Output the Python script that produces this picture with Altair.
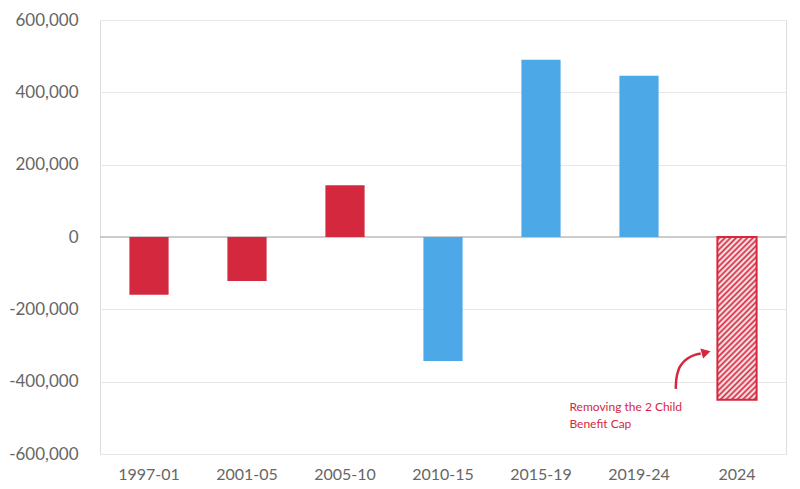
import altair as alt
import pandas as pd

periods = ["1997-01", "2001-05", "2005-10", "2010-15", "2015-19", "2019-24", "2024"]
values = [-160000, -122000, 143000, -343000, 490000, 446000, -450000]
groups = ["red", "red", "red", "blue", "blue", "blue", "hatch"]

note_lines = ["Removing the 2 Child", "Benefit Cap"]
note_x = [4.79, 4.79]
note_y = [-470000, -518000]

arrow_x = [5.875, 5.88, 5.90, 5.94, 6.00, 6.07, 6.13]
arrow_y = [-420000, -395000, -370000, -350000, -335000, -326000, -322000]
head_x = [6.17]
head_y = [-320000]

RED = "#D4283F"
BLUE = "#4DA8E8"
FONT = "Lato"

df = pd.DataFrame({"period": periods, "value": values, "group": groups})
solid = df[df.group != "hatch"]
hatch = df[df.group == "hatch"]

xenc = alt.X("period:N", sort=periods, title=None,
             scale=alt.Scale(paddingInner=0.6, paddingOuter=0.3),
             axis=alt.Axis(labelAngle=0, domain=False, ticks=False, grid=False,
                           labelFont=FONT, labelFontSize=16, labelColor="#666666",
                           labelPadding=12))
yaxis = alt.Axis(values=[-600000, -400000, -200000, 0, 200000, 400000, 600000],
                 labelExpr="replace(format(datum.value, ',.0f'), '\u2212', '-')",
                 domain=False, ticks=False,
                 gridColor="#e8e8e8", gridWidth=1,
                 labelFont=FONT, labelFontSize=17, labelColor="#666666",
                 labelPadding=22)
yscale = alt.Scale(domain=[-600000, 600000], nice=False)

bars = alt.Chart(solid).mark_bar().encode(
    x=xenc, y=alt.Y("value:Q", title=None, scale=yscale, axis=yaxis),
    color=alt.Color("group:N", scale=alt.Scale(domain=["red", "blue"], range=[RED, BLUE]), legend=None),
)

n = 36
stops = []
for i in range(n):
    stops += [
        alt.GradientStop(offset=i / n, color="#ffffff"),
        alt.GradientStop(offset=(i + 0.5) / n, color=RED),
        alt.GradientStop(offset=min((i + 1) / n, 1.0), color="#ffffff"),
    ]
grad = alt.LinearGradient(gradient="linear", stops=stops, x1=0, y1=0, x2=0.283, y2=1.173)

hatched = alt.Chart(hatch).mark_bar(fill=grad, stroke=RED, strokeWidth=2).encode(
    x=alt.X("period:N", sort=periods),
    y=alt.Y("value:Q", title=None, scale=yscale, axis=yaxis),
)

zero = alt.Chart(pd.DataFrame({"z": [0]})).mark_rule(color="#cccccc", strokeWidth=2).encode(
    y=alt.Y("z:Q", title=None, scale=yscale, axis=yaxis)
)

base = (zero + bars + hatched)

ox = alt.Scale(domain=[0, 7])
note = alt.Chart(pd.DataFrame({"x": note_x, "y": note_y, "t": note_lines})).mark_text(
    align="left", baseline="middle", font=FONT, fontSize=12, color=RED
).encode(x=alt.X("x:Q", scale=ox, axis=None), y=alt.Y("y:Q", title=None, scale=yscale, axis=yaxis), text="t:N")

arrow = alt.Chart(pd.DataFrame({"x": arrow_x, "y": arrow_y, "o": list(range(len(arrow_x)))})).mark_line(
    color=RED, strokeWidth=2.5, interpolate="monotone"
).encode(x=alt.X("x:Q", scale=ox, axis=None), y=alt.Y("y:Q", title=None, scale=yscale, axis=yaxis), order="o:Q")

head = alt.Chart(pd.DataFrame({"x": head_x, "y": head_y})).mark_point(
    shape="triangle", filled=True, color=RED, size=110, angle=75, opacity=1
).encode(x=alt.X("x:Q", scale=ox, axis=None), y=alt.Y("y:Q", title=None, scale=yscale, axis=yaxis))

overlay = note + arrow + head

chart = alt.layer(base, overlay).resolve_scale(x="independent").properties(
    width=686, height=434,
    autosize=alt.AutoSizeParams(type="none"),
    padding={"left": 92, "top": 12, "right": 6, "bottom": 35},
).configure_view(stroke=None, strokeWidth=0).configure_axis(
    domain=False, ticks=False
).configure(background="white")

chart.save("out.html", embed_options={"renderer": "svg", "actions": False})
